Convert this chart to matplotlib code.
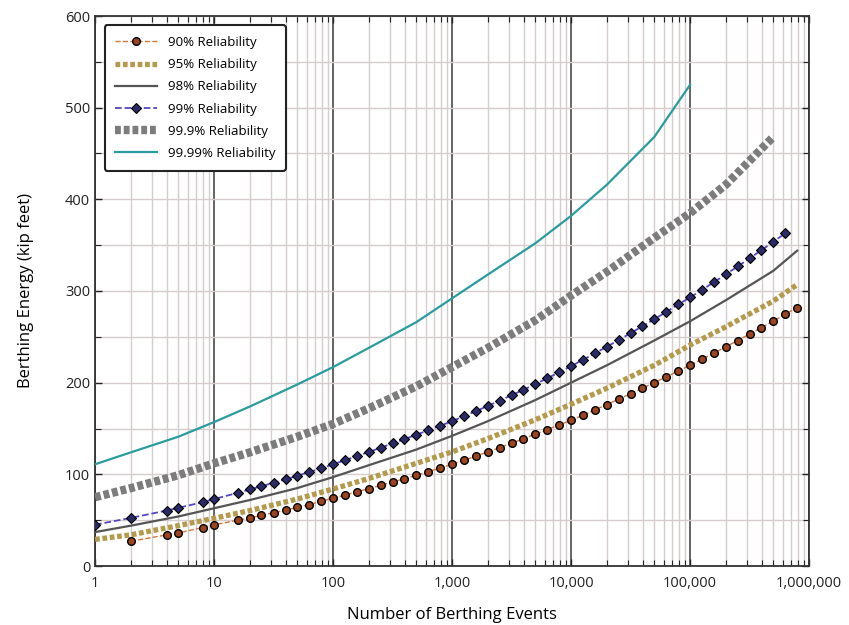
import matplotlib
matplotlib.use("Agg")
import matplotlib.pyplot as plt
from matplotlib.ticker import FuncFormatter, LogLocator, MultipleLocator, NullFormatter

plt.rcParams["font.family"] = ["Open Sans", "DejaVu Sans"]

x_ticks = [1, 10, 100, 1000, 10000, 100000, 1000000]

# marker series (90% and 99%)
n_90 = [2, 4, 5, 8, 10, 16, 20, 25, 32, 40, 50, 63, 79,
        100, 126, 158, 200, 251, 316, 398, 501, 631, 794,
        1000, 1259, 1585, 1995, 2512, 3162, 3981, 5012, 6310, 7943,
        10000, 12589, 15849, 19953, 25119, 31623, 39811, 50119, 63096, 79433,
        100000, 125893, 158489, 199526, 251189, 316228, 398107, 501187, 630957, 794328]
e_90 = [27, 34, 36, 42, 45, 50, 52.5, 55.3, 58.2, 61, 64, 67, 70.5,
        74, 77.4, 80.9, 84.4, 88, 91.6, 95.3, 99, 102.9, 106.9,
        111, 115.4, 119.9, 124.5, 129.2, 134.0, 138.9, 143.9, 148.9, 153.9,
        159, 164.6, 170.3, 176.1, 182.0, 188.0, 194.0, 200.1, 206.3, 212.6,
        219, 225.6, 232.3, 239.1, 246.0, 253.0, 260.1, 267.3, 274.6, 282.0]

n_99 = [1, 2, 4, 5, 8, 10, 16, 20, 25, 32, 40, 50, 63, 79,
        100, 126, 158, 200, 251, 316, 398, 501, 631, 794,
        1000, 1259, 1585, 1995, 2512, 3162, 3981, 5012, 6310, 7943,
        10000, 12589, 15849, 19953, 25119, 31623, 39811, 50119, 63096, 79433,
        100000, 125893, 158489, 199526, 251189, 316228, 398107, 501187, 630957]
e_99 = [45, 52.5, 60.5, 63.5, 69.5, 73, 80, 83.5, 87, 91, 94.5, 98.5, 102.5, 106.5,
        111, 115.4, 119.9, 124.4, 129.0, 133.7, 138.4, 143.2, 148.1, 153.0,
        158, 163.4, 168.9, 174.6, 180.4, 186.3, 192.3, 198.5, 204.8, 211.3,
        218, 225, 232, 239.2, 246.5, 254, 261.6, 269.3, 277.2, 285.3,
        293, 301.2, 309.6, 318.1, 326.8, 335.6, 344.6, 353.7, 363.0]

# line series
n_line = [1, 2, 5, 10, 20, 50, 100, 200, 500, 1000, 2000, 5000,
          10000, 20000, 50000, 100000, 200000, 500000, 794328]
e_95 = [29, 34, 44, 52, 60.5, 73, 84, 95.5, 112, 124.5, 139, 159.5,
        176.5, 194, 219, 241, 261, 289, 307]
e_98 = [37, 44, 54, 63, 72, 85, 97, 110, 127, 142, 158, 181,
        200, 219, 246, 267, 290, 322, 344]

n_999 = [1, 2, 5, 10, 20, 50, 100, 200, 500, 1000, 2000, 5000,
         10000, 20000, 50000, 100000, 200000, 490000]
e_999 = [75, 85, 99, 112, 124, 141, 155, 172, 196, 217, 238, 268,
         295, 321, 358, 385, 416, 467]

n_9999 = [1, 2, 5, 10, 20, 50, 100, 200, 500, 1000, 2000, 5000,
          10000, 20000, 50000, 100000]
e_9999 = [111, 124, 141, 157, 174, 198, 217, 238, 266, 292, 318, 352,
          382, 416, 468, 525]

fig = plt.figure(figsize=(8.49, 6.25), dpi=100)
ax = fig.add_axes([0.112, 0.0944, 0.841, 0.88])

ax.plot(n_90, e_90, ls="--", c="#d2783c", lw=1.0, marker="o", ms=5.5,
        mfc="#9a4420", mec="black", mew=1.0, label="90% Reliability", zorder=5)
ax.plot(n_line, e_95, c="#b49a4c", lw=3.8, dashes=(0.9, 0.5),
        dash_capstyle="butt", label="95% Reliability", zorder=4)
ax.plot(n_line, e_98, c="#555555", lw=1.6, label="98% Reliability", zorder=4)
ax.plot(n_99, e_99, ls="--", c="#5545c8", lw=1.3, marker="D", ms=4.8,
        mfc="#2a2a66", mec="black", mew=0.8, label="99% Reliability", zorder=5)
ax.plot(n_999, e_999, c="#7c7c7c", lw=6, dashes=(0.7, 0.35),
        dash_capstyle="butt", label="99.9% Reliability", zorder=4)
ax.plot(n_9999, e_9999, c="#2a9c9e", lw=1.6, label="99.99% Reliability", zorder=4)

ax.set_xscale("log")
ax.set_xlim(1, 1e6)
ax.set_ylim(0, 600)

ax.set_xticks(x_ticks)
ax.xaxis.set_minor_locator(LogLocator(base=10, subs=range(2, 10), numticks=100))
ax.xaxis.set_major_formatter(FuncFormatter(lambda v, p: f"{int(round(v)):,}"))
ax.xaxis.set_minor_formatter(NullFormatter())
ax.yaxis.set_major_locator(MultipleLocator(100))
ax.yaxis.set_minor_locator(MultipleLocator(50))
ax.set_xlim(1, 1e6)

ax.grid(which="major", axis="x", color="#4a4a4a", lw=1.2)
ax.grid(which="minor", axis="x", color="#d6cccc", lw=1.0)
ax.grid(which="both", axis="y", color="#d6cccc", lw=1.0)
ax.set_axisbelow(True)

ax.tick_params(which="both", direction="in", top=True, right=True,
               labelsize=10.5, colors="#222222")
ax.tick_params(which="major", length=5, width=1)
ax.tick_params(which="minor", length=4, width=0.8)
ax.tick_params(axis="x", pad=7)
for s in ax.spines.values():
    s.set_color("#333333")
    s.set_linewidth(1.3)

ax.set_xlabel("Number of Berthing Events", fontsize=12, labelpad=12)
ax.set_ylabel("Berthing Energy (kip feet)", fontsize=12, labelpad=22)

leg = ax.legend(loc="upper left", fontsize=9.5, handlelength=3.2,
                labelspacing=0.7, borderpad=0.8, framealpha=1,
                bbox_to_anchor=(0.004, 0.995))
leg.get_frame().set_edgecolor("#222222")
leg.get_frame().set_linewidth(1.5)

fig.savefig("out.png", dpi=100)
